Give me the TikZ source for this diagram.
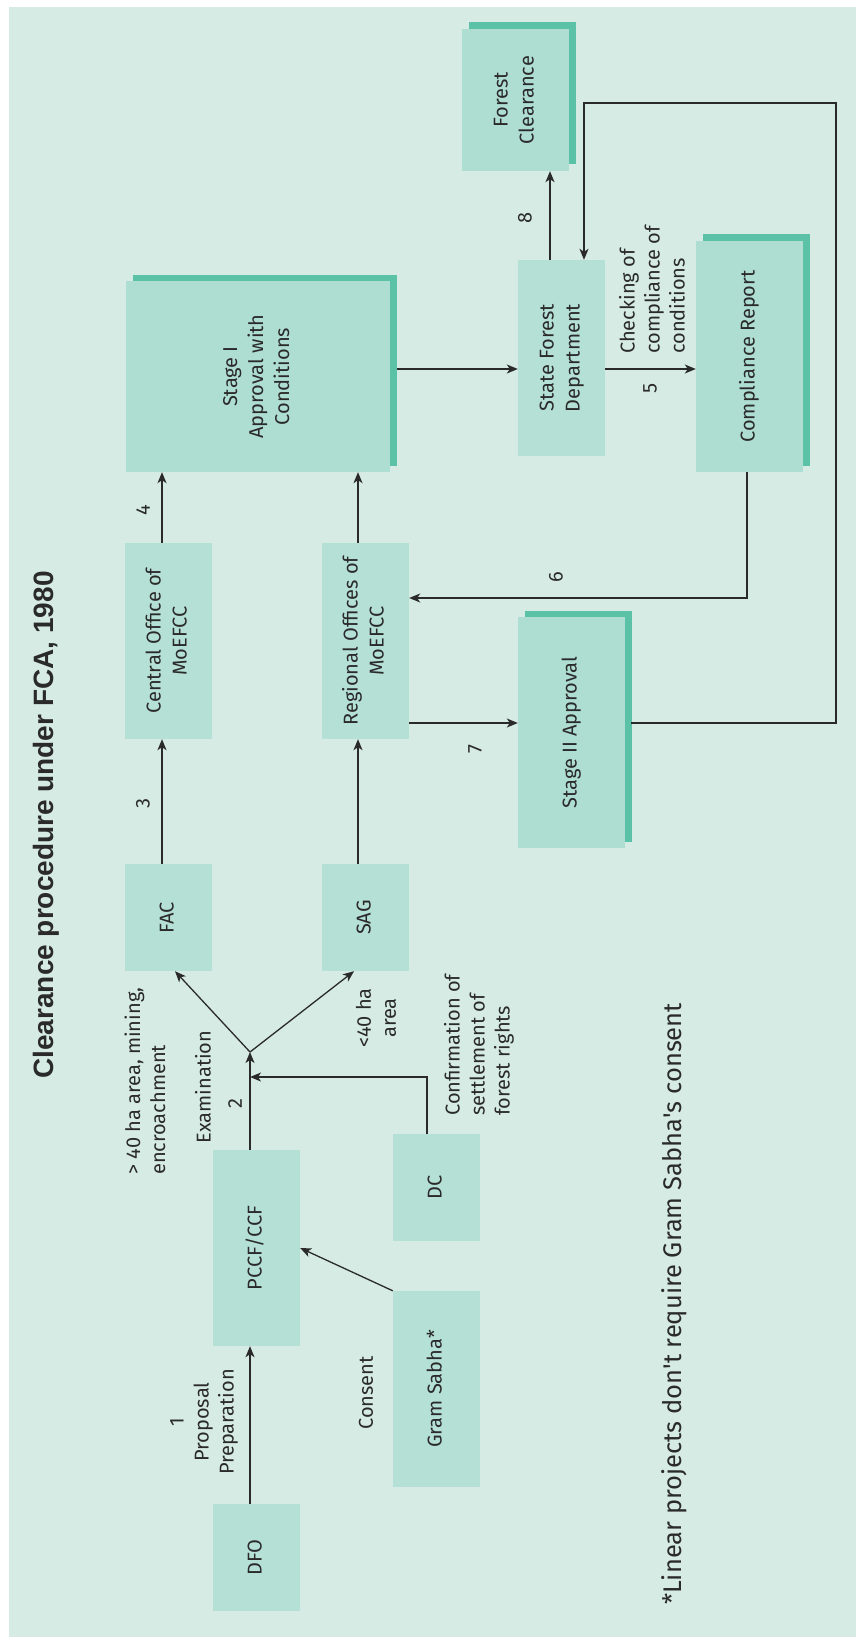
\documentclass[tikz,border=0pt]{standalone}
\usepackage{fontspec}
\setmainfont{Fira Sans}
\newfontfamily\titlefont{Liberation Sans}
\usetikzlibrary{arrows.meta,shadows}
\definecolor{panel}{HTML}{D5EBE3}
\definecolor{boxA}{HTML}{B5E0D5}
\definecolor{boxB}{HTML}{AEDDD1}
\definecolor{shg}{HTML}{5BC2A7}
\definecolor{ink}{HTML}{2A2A2A}
\newcommand\boxtext[1]{\rotatebox{90}{\begin{tabular}{@{}c@{}}#1\end{tabular}}}
\begin{document}
\begin{tikzpicture}[x=1pt,y=-1pt,
  every node/.style={text=ink},
  plainbox/.style={fill=boxA, inner sep=0pt, font=\fontsize{20}{26}\selectfont},
  shbox/.style={fill=boxB, inner sep=0pt, font=\fontsize{20}{26}\selectfont,
     general shadow={fill=shg, shadow xshift=7pt, shadow yshift=6.5pt}},
  lbl/.style={rotate=90, inner sep=0pt, align=center, font=\fontsize{20}{25}\selectfont},
  arr/.style={draw=ink, line width=1.3pt, -{Stealth[length=11pt,width=9pt,inset=3pt]}},
  ln/.style={draw=ink, line width=1.3pt}]
\useasboundingbox (0,0) rectangle (856,1637);
\fill[white] (0,0) rectangle (856,1637);
\fill[panel] (9,7) rectangle (856,1637);

\node[rotate=90, inner sep=0pt, font=\titlefont\bfseries\fontsize{28}{32}\selectfont] (title) at (46,825) {Clearance procedure under FCA, 1980};

% boxes
\node[plainbox, minimum width=87pt, minimum height=107pt] (dfo) at (256.5,1557.5) {\boxtext{DFO}};
\node[plainbox, minimum width=87pt, minimum height=196pt] (pccf) at (256.5,1248) {\boxtext{PCCF/CCF}};
\node[plainbox, minimum width=87pt, minimum height=196pt] (gram) at (436.5,1389) {\boxtext{Gram Sabha*}};
\node[plainbox, minimum width=87pt, minimum height=107pt] (dc) at (436.5,1187.5) {\boxtext{DC}};
\node[plainbox, minimum width=87pt, minimum height=107pt] (fac) at (168.5,917.5) {\boxtext{FAC}};
\node[plainbox, minimum width=87pt, minimum height=107pt] (sag) at (365.5,917.5) {\boxtext{SAG}};
\node[plainbox, minimum width=87pt, minimum height=196pt] (central) at (168.5,641) {\boxtext{Central Office of\\MoEFCC}};
\node[plainbox, minimum width=87pt, minimum height=196pt] (regional) at (365.5,641) {\boxtext{Regional Offices of\\MoEFCC}};
\node[plainbox, minimum width=87pt, minimum height=196pt] (sfd) at (561.5,358) {\boxtext{State Forest\\Department}};
\node[shbox, minimum width=264pt, minimum height=191pt] (stagei) at (258,376.5) {\boxtext{Stage I\\Approval with\\Conditions}};
\node[shbox, minimum width=107pt, minimum height=231pt] (stageii) at (571.5,732.5) {\boxtext{Stage II Approval}};
\node[shbox, minimum width=107pt, minimum height=231pt] (comp) at (749.5,356.5) {\boxtext{Compliance Report}};
\node[shbox, minimum width=107pt, minimum height=142pt] (fc) at (515.5,100) {\boxtext{Forest\\Clearance}};

% connectors
\coordinate (br) at (250,1052);
\coordinate (dcj) at (250,1077);
\coordinate (rt) at (836,723);
\coordinate (tp) at (836,103);
\draw[arr] ([xshift=-6.5pt]dfo.north) -- ([xshift=-6.5pt]pccf.south);
\draw[arr] ([xshift=-6.5pt]pccf.north) -- (br);
\draw[arr] ([xshift=-9.5pt]dc.north) |- (dcj);
\draw[arr] (gram.north west) -- (pccf.east);
\draw[arr] (br) -- ([xshift=6.5pt]fac.south);
\draw[arr] (br) -- ([xshift=-11.5pt]sag.south);
\draw[arr] ([xshift=-6.5pt]fac.north) -- ([xshift=-6.5pt]central.south);
\draw[arr] ([xshift=-7.5pt]sag.north) -- ([xshift=-7.5pt]regional.south);
\draw[arr] ([xshift=-6.5pt]central.north) -- ([xshift=-96pt]stagei.south);
\draw[arr] ([xshift=-7.5pt]regional.north) -- ([xshift=100pt]stagei.south);
\draw[arr] ([xshift=7pt,yshift=7.5pt]stagei.east) -- ([yshift=-11pt]sfd.west);
\draw[arr] ([yshift=-11pt]sfd.east) -- ([yshift=-12.5pt]comp.west);
\draw[arr] ([xshift=-2.5pt]comp.south) |- ([yshift=43pt]regional.east);
\draw[arr] ([yshift=-82pt]regional.east) -- ([yshift=9.5pt]stageii.west);
\draw[arr] ([xshift=6pt,yshift=9.5pt]stageii.east) -- (rt) -- (tp) -| ([xshift=22.5pt]sfd.north);
\draw[arr] ([xshift=-11.5pt]sfd.north) -- ([xshift=34.5pt]fc.south);

% labels
\node[lbl] (l1) at (204,1422) {1\\Proposal\\Preparation};
\node[lbl] (lcons) at (366,1393) {Consent};
\node[lbl] (lexam) at (203,1087) {Examination};
\node[lbl] (l2) at (235,1104) {2};
\node[lbl, anchor=west, align=left] (lgt) at (145,1175) {> 40 ha area, mining,\\encroachment};
\node[lbl] (llt) at (376,1018) {<40 ha\\area};
\node[lbl, anchor=west, align=left] (lconf) at (479,1116) {Confirmation of\\settlement of\\forest rights};
\node[lbl] (l3) at (143,804) {3};
\node[lbl] (l4) at (143,510) {4};
\node[lbl] (l6) at (556,577) {6};
\node[lbl] (l7) at (475,749) {7};
\node[lbl] (l8) at (525,218) {8};
\node[lbl] (l5) at (650,388) {5};
\node[lbl, anchor=west, align=left] (lchk) at (652,354) {Checking of\\compliance of\\conditions};
\node[rotate=90, inner sep=0pt, font=\fontsize{25.5}{30}\selectfont] (foot) at (674,1304) {*Linear projects don\textquotesingle t require Gram Sabha\textquotesingle s consent};
\end{tikzpicture}
\end{document}
